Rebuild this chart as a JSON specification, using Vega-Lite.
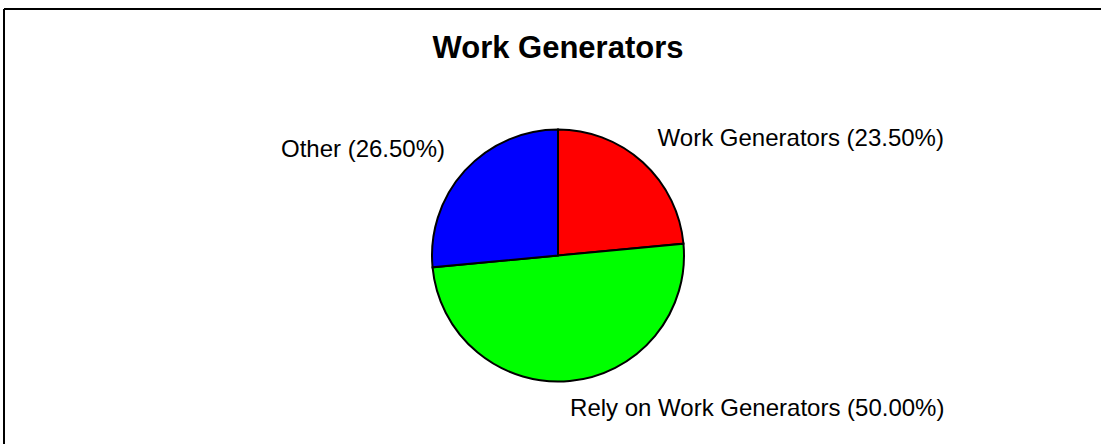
{
  "$schema": "https://vega.github.io/schema/vega-lite/v6.json",
  "autosize": {"type": "none"},
  "width": 1108,
  "height": 493,
  "padding": {"left": 4, "top": 9, "right": 0, "bottom": 0},
  "background": "white",
  "title": {
    "text": "Work Generators",
    "font": "Liberation Sans",
    "fontSize": 31,
    "fontWeight": "bold",
    "color": "black",
    "anchor": "middle",
    "frame": "group",
    "orient": "top",
    "baseline": "alphabetic",
    "offset": -49,
    "dy": 31.5
  },
  "config": {
    "view": {"stroke": null},
    "text": {"font": "Liberation Sans"}
  },
  "data": {
    "values": [
      {"name": "Work Generators", "share": 23.5, "rank": 1, "label": "Work Generators (23.50%)"},
      {"name": "Rely on Work Generators", "share": 50.0, "rank": 2, "label": "Rely on Work Generators (50.00%)"},
      {"name": "Other", "share": 26.5, "rank": 3, "label": "Other (26.50%)"}
    ]
  },
  "layer": [
    {
      "transform": [{"filter": "datum.rank === 1"}],
      "mark": {"type": "rule", "stroke": "black", "strokeWidth": 2},
      "encoding": {"y": {"value": 0}}
    },
    {
      "transform": [{"filter": "datum.rank === 1"}],
      "mark": {"type": "rule", "stroke": "black", "strokeWidth": 2},
      "encoding": {"x": {"value": 0}}
    },
    {
      "mark": {"type": "arc", "outerRadius": 126, "stroke": "black", "strokeWidth": 2},
      "encoding": {
        "theta": {"field": "share", "type": "quantitative", "stack": true},
        "order": {"field": "rank", "type": "quantitative"},
        "color": {
          "field": "name",
          "type": "nominal",
          "scale": {
            "domain": ["Work Generators", "Rely on Work Generators", "Other"],
            "range": ["#ff0000", "#00ff00", "#0000ff"]
          },
          "legend": null
        }
      }
    },
    {
      "mark": {"type": "text", "radius": 148, "align": "left", "baseline": "alphabetic", "fontSize": 24, "color": "black"},
      "encoding": {
        "theta": {"field": "share", "type": "quantitative", "stack": true},
        "order": {"field": "rank", "type": "quantitative"},
        "detail": {"field": "name", "type": "nominal"},
        "text": {"condition": {"test": "datum.name === 'Work Generators'", "field": "label", "type": "nominal"}, "value": ""}
      }
    },
    {
      "mark": {"type": "text", "radius": 150, "align": "right", "baseline": "alphabetic", "fontSize": 24, "color": "black", "dx": -2, "dy": 2},
      "encoding": {
        "theta": {"field": "share", "type": "quantitative", "stack": true},
        "order": {"field": "rank", "type": "quantitative"},
        "detail": {"field": "name", "type": "nominal"},
        "text": {"condition": {"test": "datum.name === 'Other'", "field": "label", "type": "nominal"}, "value": ""}
      }
    },
    {
      "mark": {"type": "text", "radius": 160, "align": "left", "baseline": "alphabetic", "fontSize": 24, "color": "black", "dx": -3, "dy": 1},
      "encoding": {
        "theta": {"field": "share", "type": "quantitative", "stack": true},
        "order": {"field": "rank", "type": "quantitative"},
        "detail": {"field": "name", "type": "nominal"},
        "text": {"condition": {"test": "datum.name === 'Rely on Work Generators'", "field": "label", "type": "nominal"}, "value": ""}
      }
    }
  ]
}
